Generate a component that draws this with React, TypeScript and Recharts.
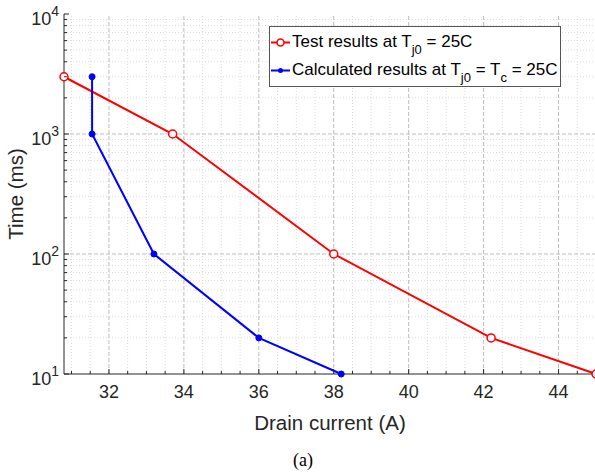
import { LineChart, Line, XAxis, YAxis, ReferenceLine, Legend } from "recharts";

const testResults = [
  { x: 30.8, y: 3000 },
  { x: 33.7, y: 1000 },
  { x: 38.0, y: 100 },
  { x: 42.2, y: 20 },
  { x: 45.0, y: 10 },
];
const calcResults = [
  { x: 31.55, y: 3000 },
  { x: 31.55, y: 1000 },
  { x: 33.2, y: 100 },
  { x: 36.0, y: 20 },
  { x: 38.2, y: 10 },
];

const xDomain = [30.8, 45];
const xMajorTicks = [32, 34, 36, 38, 40, 42, 44];
const xMinorTicks = [
  31, 31.5, 32.5, 33, 33.5, 34.5, 35, 35.5, 36.5, 37, 37.5, 38.5, 39, 39.5,
  40.5, 41, 41.5, 42.5, 43, 43.5, 44.5, 45,
];
const yDomain = [10, 10000];
const yMajorTicks = [10, 100, 1000, 10000];
const yMinorTicks = [
  20, 30, 40, 50, 60, 70, 80, 90, 200, 300, 400, 500, 600, 700, 800, 900,
  2000, 3000, 4000, 5000, 6000, 7000, 8000, 9000,
];
const xTicks = [...xMajorTicks, ...xMinorTicks];
const yTicks = [...yMajorTicks, ...yMinorTicks];

const AXIS = "#262626";
const FONT = "'Liberation Sans', Arial, sans-serif";
const MAJOR = 5;
const MINOR = 3;

const isMajorX = (v: number) => xMajorTicks.includes(v);
const isMajorY = (v: number) => yMajorTicks.includes(v);

function BottomTick({ x, y, payload }: any) {
  const major = isMajorX(payload.value);
  return (
    <g>
      <line x1={x} x2={x} y1={y} y2={y - (major ? MAJOR : MINOR)} stroke={AXIS} />
      {major && (
        <text x={x} y={y + 24} textAnchor="middle" fontSize={18} fill={AXIS} fontFamily={FONT}>
          {payload.value}
        </text>
      )}
    </g>
  );
}

function TopTick({ x, y, payload }: any) {
  const major = isMajorX(payload.value);
  return <line x1={x} x2={x} y1={y} y2={y + (major ? MAJOR : MINOR)} stroke={AXIS} />;
}

function LeftTick({ x, y, payload }: any) {
  const major = isMajorY(payload.value);
  const exp = Math.round(Math.log10(payload.value));
  return (
    <g>
      <line x1={x} x2={x + (major ? MAJOR : MINOR)} y1={y} y2={y} stroke={AXIS} />
      {major && (
        <text x={x - 5} y={y + 11} textAnchor="end" fontSize={18} fill={AXIS} fontFamily={FONT}>
          10
          <tspan dy={-9} fontSize={14}>
            {exp}
          </tspan>
        </text>
      )}
    </g>
  );
}

function RightTick({ x, y, payload }: any) {
  const major = isMajorY(payload.value);
  return <line x1={x} x2={x - (major ? MAJOR : MINOR)} y1={y} y2={y} stroke={AXIS} />;
}

function LegendBox() {
  return (
    <svg width={293} height={62} style={{ display: "block" }}>
      <rect x={0.5} y={0.5} width={291} height={60} fill="#fff" stroke="#555" />
      <line x1={2} x2={21} y1={16.5} y2={16.5} stroke="#ff0000" strokeWidth={2} />
      <circle cx={11.5} cy={16.5} r={3.5} fill="#fff" stroke="#ff0000" strokeWidth={1.5} />
      <text x={23} y={21} fontSize={17} fontFamily={FONT} fill="#000">
        Test results at T
        <tspan dy={7} fontSize={13}>j0</tspan>
        <tspan dy={-7}> = 25C</tspan>
      </text>
      <line x1={2} x2={21} y1={44.5} y2={44.5} stroke="#0000ff" strokeWidth={2} />
      <circle cx={11.5} cy={44.5} r={2.5} fill="#0000ff" />
      <text x={23} y={49} fontSize={17} fontFamily={FONT} fill="#000">
        Calculated results at T
        <tspan dy={7} fontSize={13}>j0</tspan>
        <tspan dy={-7}> = T</tspan>
        <tspan dy={7} fontSize={13}>c</tspan>
        <tspan dy={-7}> = 25C</tspan>
      </text>
    </svg>
  );
}

export default function App() {
  return (
    <div
      style={{
        position: "absolute",
        left: 0,
        top: 0,
        width: 595,
        height: 472,
        overflow: "hidden",
        background: "#fff",
      }}
    >
      <LineChart width={596} height={472} margin={{ top: 14, right: 0, bottom: 0, left: 0 }}>
        <XAxis
          dataKey="x"
          type="number"
          domain={xDomain}
          ticks={xTicks}
          interval={0}
          tick={<BottomTick />}
          tickLine={false}
          tickSize={0}
          tickMargin={0}
          height={98}
          axisLine={{ stroke: AXIS }}
          label={() => (
            <text x={330} y={430} textAnchor="middle" fontSize={20.5} fill={AXIS} fontFamily={FONT}>
              Drain current (A)
            </text>
          )}
        />
        <XAxis
          xAxisId="top"
          orientation="top"
          dataKey="x"
          type="number"
          domain={xDomain}
          ticks={xTicks}
          interval={0}
          tick={<TopTick />}
          tickLine={false}
          tickSize={0}
          tickMargin={0}
          height={0}
          axisLine={{ stroke: AXIS }}
        />
        <YAxis
          type="number"
          scale="log"
          domain={yDomain}
          ticks={yTicks}
          interval={0}
          tick={<LeftTick />}
          tickLine={false}
          tickSize={0}
          tickMargin={0}
          width={64}
          axisLine={{ stroke: AXIS }}
          label={() => (
            <text
              transform="translate(23,194) rotate(-90)"
              textAnchor="middle"
              fontSize={20.5}
              fill={AXIS}
              fontFamily={FONT}
            >
              Time (ms)
            </text>
          )}
        />
        <YAxis
          yAxisId="right"
          orientation="right"
          type="number"
          scale="log"
          domain={yDomain}
          ticks={yTicks}
          interval={0}
          tick={<RightTick />}
          tickLine={false}
          tickSize={0}
          tickMargin={0}
          width={0}
          axisLine={{ stroke: AXIS }}
        />
        {xMinorTicks.map((v) => (
          <ReferenceLine key={"xm" + v} x={v} stroke="#dcdcdc" strokeDasharray="1 2" />
        ))}
        {yMinorTicks.map((v) => (
          <ReferenceLine key={"ym" + v} y={v} stroke="#dcdcdc" strokeDasharray="1 2" />
        ))}
        {xMajorTicks.map((v) => (
          <ReferenceLine key={"xM" + v} x={v} stroke="#bdbdbd" strokeDasharray="4 2" />
        ))}
        {yMajorTicks.slice(1, -1).map((v) => (
          <ReferenceLine key={"yM" + v} y={v} stroke="#bdbdbd" strokeDasharray="4 2" />
        ))}
        <Line
          data={testResults}
          dataKey="y"
          stroke="#ff0000"
          strokeWidth={2}
          dot={{ r: 4, fill: "#fff", stroke: "#ff0000", strokeWidth: 1.5 }}
          isAnimationActive={false}
        />
        <Line
          data={calcResults}
          dataKey="y"
          stroke="#0000ff"
          strokeWidth={2}
          dot={{ r: 3, fill: "#0000ff", stroke: "#0000ff", strokeWidth: 1 }}
          isAnimationActive={false}
        />
        <Legend
          layout="vertical"
          align="center"
          verticalAlign="middle"
          content={() => <LegendBox />}
          wrapperStyle={{ top: 26, left: 269, width: 293, height: 62 }}
        />
        <text x={303} y={466} textAnchor="middle" fontSize={18} fill="#000" fontFamily="'Liberation Serif', 'Times New Roman', serif">
          (a)
        </text>
      </LineChart>
    </div>
  );
}
